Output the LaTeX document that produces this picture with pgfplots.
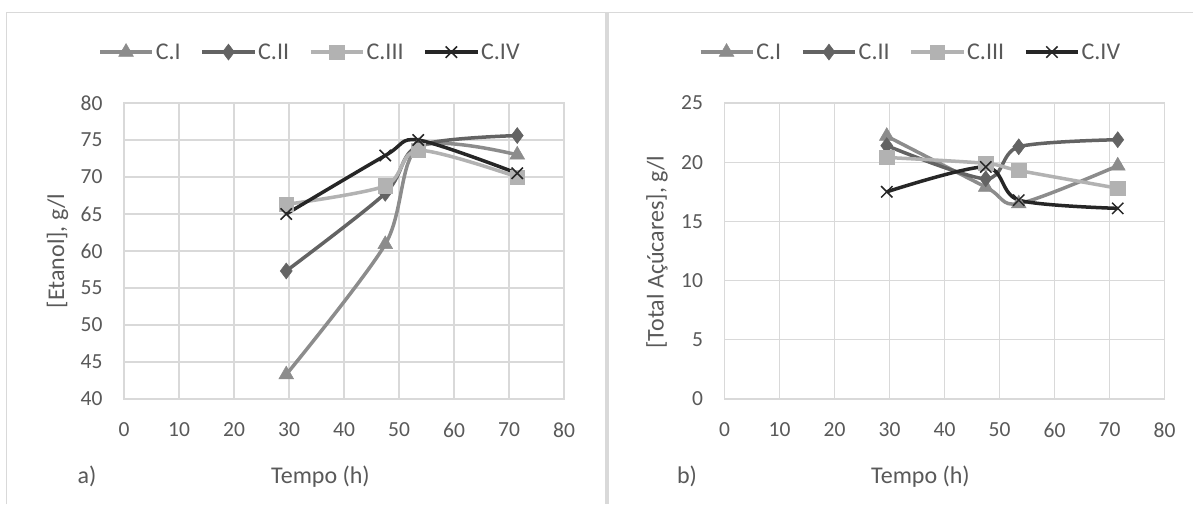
\documentclass[border=0pt]{standalone}
\usepackage{fontspec}
\setmainfont{Carlito}
\usepackage{pgfplots}
\pgfplotsset{compat=1.18}
\definecolor{gridg}{HTML}{D9D9D9}
\definecolor{txt}{HTML}{595959}
\definecolor{cI}{HTML}{8C8C8C}
\definecolor{cII}{HTML}{636363}
\definecolor{cIII}{HTML}{B2B2B2}
\definecolor{cIV}{HTML}{262626}
\pgfplotsset{
  mystyle/.style={
    scale only axis, width=440pt, height=296pt,
    xmin=0, xmax=80, xtick={0,10,...,80},
    grid=major, grid style={gridg, line width=1.1pt},
    axis line style={gridg, line width=1.1pt},
    major tick length=0pt,
    tick label style={font=\fontsize{21.5}{25}\selectfont, text=txt},
    xticklabel style={yshift=-20pt},
    yticklabel style={xshift=-18pt},
    /pgf/number format/assume math mode=true,
    legend columns=4,
    legend style={draw=none, fill=none, font=\fontsize{24}{27}\selectfont, text=txt,
      /tikz/every even column/.append style={column sep=18pt},
      at={(0.4227,1.172)}, anchor=center, inner sep=0pt},
    legend cell align=left,
    legend image code/.code={
      \draw[mark repeat=2,mark phase=2] plot coordinates {(0pt,0pt) (26pt,0pt) (52pt,0pt)};
    },
  },
  sI/.style={cI, line width=3.5pt, smooth, mark=triangle*, mark size=8.5pt, mark options={solid, fill=cI, draw=cI, line width=0.5pt}},
  sII/.style={cII, line width=3.5pt, smooth, mark=diamond*, mark size=8pt, mark options={solid, fill=cII, draw=cII, line width=0.5pt}},
  sIII/.style={cIII, line width=3.5pt, smooth, mark=square*, mark size=7.2pt, mark options={solid, fill=cIII, draw=cIII, line width=0.5pt}},
  sIV/.style={cIV, line width=3.5pt, smooth, mark=x, mark size=8pt, mark options={solid, draw=cIV, line width=1.5pt}},
}
\begin{document}
\begin{tikzpicture}[x=1pt,y=1pt]
\path[use as bounding box, fill=white] (0,0) rectangle (1193,504);
\draw[gridg, line width=1.2pt] (6.5,0) -- (6.5,491.5) -- (1193,491.5);
\fill[gridg] (605,0) rectangle (608.5,491.5);

\begin{axis}[mystyle, at={(124pt,105pt)}, anchor=south west,
  ymin=40, ymax=80, ytick={40,45,...,80}]
\addplot[sI] coordinates {(29.5,43.3) (47.5,60.9) (53.5,74.0) (71.5,73.0)};
\addlegendentry{C.I}
\addplot[sII] coordinates {(29.5,57.3) (47.5,67.8) (53.5,74.2) (71.5,75.6)};
\addlegendentry{C.II}
\addplot[sIII] coordinates {(29.5,66.3) (47.5,68.8) (53.5,73.6) (71.5,70.0)};
\addlegendentry{C.III}
\addplot[sIV] coordinates {(29.5,65.0) (47.5,72.9) (53.5,75.0) (71.5,70.5)};
\addlegendentry{C.IV}
\end{axis}

\begin{axis}[mystyle, at={(724.5pt,105pt)}, anchor=south west,
  ymin=0, ymax=25, ytick={0,5,...,25}]
\addplot[sI] coordinates {(29.5,22.2) (47.5,17.9) (53.5,16.5) (71.5,19.7)};
\addlegendentry{C.I}
\addplot[sII] coordinates {(29.5,21.4) (47.5,18.6) (53.5,21.3) (71.5,21.9)};
\addlegendentry{C.II}
\addplot[sIII] coordinates {(29.5,20.4) (47.5,19.9) (53.5,19.3) (71.5,17.8)};
\addlegendentry{C.III}
\addplot[sIV] coordinates {(29.5,17.5) (47.5,19.6) (53.5,16.8) (71.5,16.1)};
\addlegendentry{C.IV}
\end{axis}

\node[text=txt, font=\fontsize{24}{27}\selectfont, anchor=base] at (87,21) {a)};
\node[text=txt, font=\fontsize{24}{27}\selectfont, anchor=base] at (320.5,21) {Tempo (h)};
\node[text=txt, font=\fontsize{24}{27}\selectfont, rotate=90] at (57.4,253) {[Etanol], g/l};
\node[text=txt, font=\fontsize{24}{27}\selectfont, anchor=base] at (687,21) {b)};
\node[text=txt, font=\fontsize{24}{27}\selectfont, anchor=base] at (920.5,21) {Tempo (h)};
\node[text=txt, font=\fontsize{24}{27}\selectfont, rotate=90] at (657,252) {[Total Açúcares], g/l};
\end{tikzpicture}
\end{document}
